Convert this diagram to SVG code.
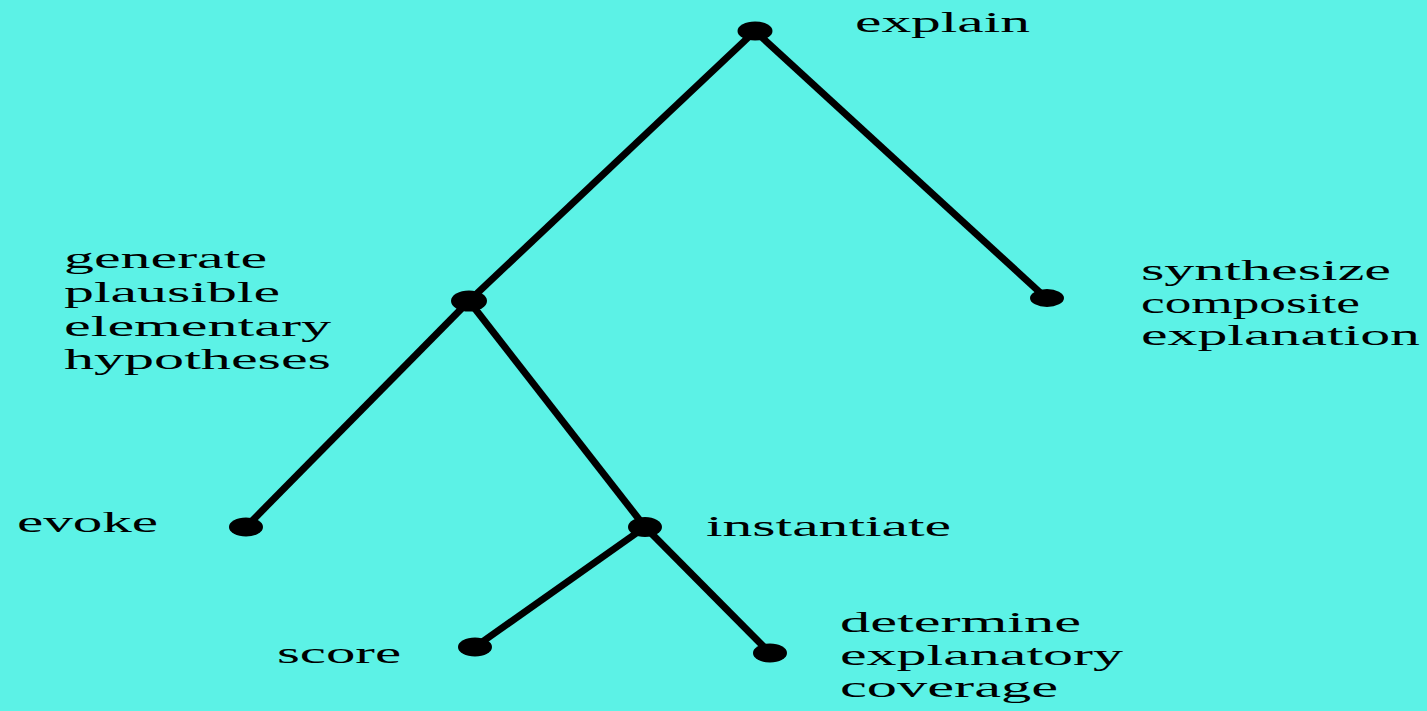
<svg xmlns="http://www.w3.org/2000/svg" width="1427" height="711" viewBox="0 0 1427 711">
<style>
.bg{fill:#5cf2e6}
.edge{stroke:#000;stroke-width:7;stroke-linecap:butt;fill:none}
.dot{fill:#000}
.lbl{font-family:"Liberation Serif","Times New Roman",serif;font-size:30px;fill:#000}
</style>
<rect class="bg" x="0" y="0" width="1427" height="711"/>
<g id="connectors">
<line class="edge" x1="755" y1="31" x2="469" y2="301"/>
<line class="edge" x1="755" y1="31" x2="1046" y2="298"/>
<line class="edge" x1="469" y1="301" x2="246" y2="527"/>
<line class="edge" x1="469" y1="301" x2="645" y2="527"/>
<line class="edge" x1="645" y1="527" x2="475" y2="647"/>
<line class="edge" x1="645" y1="527" x2="770" y2="653"/>
</g>
<g id="explain">
<ellipse class="dot" cx="755" cy="31" rx="17.5" ry="9.5"/>
<text class="lbl" x="855" y="32" textLength="175" lengthAdjust="spacingAndGlyphs">explain</text>
</g>
<g id="generate">
<ellipse class="dot" cx="469" cy="301" rx="18" ry="10.5"/>
<text class="lbl" x="64" y="268" textLength="203" lengthAdjust="spacingAndGlyphs">generate</text>
<text class="lbl" x="64" y="302" textLength="216" lengthAdjust="spacingAndGlyphs">plausible</text>
<text class="lbl" x="64" y="336" textLength="267" lengthAdjust="spacingAndGlyphs">elementary</text>
<text class="lbl" x="64" y="369" textLength="267" lengthAdjust="spacingAndGlyphs">hypotheses</text>
</g>
<g id="synthesize">
<ellipse class="dot" cx="1047" cy="298" rx="17" ry="9"/>
<text class="lbl" x="1141" y="280" textLength="250" lengthAdjust="spacingAndGlyphs">synthesize</text>
<text class="lbl" x="1141" y="313" textLength="219" lengthAdjust="spacingAndGlyphs">composite</text>
<text class="lbl" x="1141" y="345" textLength="279" lengthAdjust="spacingAndGlyphs">explanation</text>
</g>
<g id="evoke">
<ellipse class="dot" cx="246" cy="527" rx="17" ry="9.5"/>
<text class="lbl" x="17" y="532" textLength="141" lengthAdjust="spacingAndGlyphs">evoke</text>
</g>
<g id="instantiate">
<ellipse class="dot" cx="645" cy="527" rx="17" ry="10"/>
<text class="lbl" x="706" y="536" textLength="245" lengthAdjust="spacingAndGlyphs">instantiate</text>
</g>
<g id="score">
<ellipse class="dot" cx="475" cy="647" rx="17" ry="9.5"/>
<text class="lbl" x="277" y="663" textLength="124" lengthAdjust="spacingAndGlyphs">score</text>
</g>
<g id="determine">
<ellipse class="dot" cx="770" cy="653" rx="17" ry="9.5"/>
<text class="lbl" x="840" y="632" textLength="241" lengthAdjust="spacingAndGlyphs">determine</text>
<text class="lbl" x="840" y="665" textLength="283" lengthAdjust="spacingAndGlyphs">explanatory</text>
<text class="lbl" x="840" y="697" textLength="218" lengthAdjust="spacingAndGlyphs">coverage</text>
</g>
</svg>
